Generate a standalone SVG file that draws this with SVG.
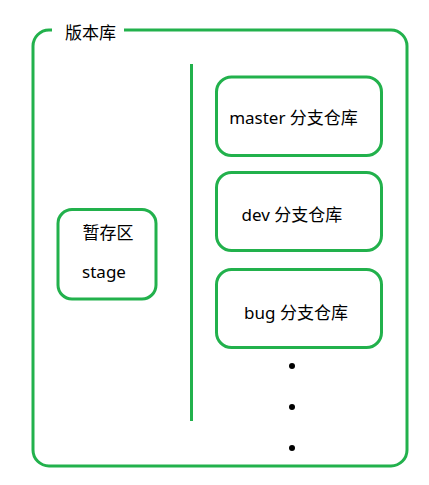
<svg xmlns="http://www.w3.org/2000/svg" width="429" height="485" viewBox="0 0 429 485">
<style>
.box{fill:none;stroke:#22B14C;stroke-width:3}
.ln{stroke:#22B14C;stroke-width:3;fill:none}
text{font-family:"Noto Sans","Noto Sans CJK SC",sans-serif;font-size:17px;fill:#000;text-anchor:middle;dominant-baseline:central}
.dot{fill:#000}
</style>
<rect width="429" height="485" fill="#fff"/>
<g id="repo">
<path class="box" d="M52,30 H49 A16,16 0 0 0 33,46 V450 A16,16 0 0 0 49,466 H391 A16,16 0 0 0 407,450 V46 A16,16 0 0 0 391,30 H124"/>
<text x="90.5" y="32">版本库</text>
</g>
<g id="connectors">
<line class="ln" x1="191.5" y1="64" x2="191.5" y2="421"/>
</g>
<g id="stage">
<rect class="box" x="58" y="209.5" width="98" height="89.5" rx="14"/>
<text x="108" y="232">暂存区</text>
<text x="104" y="271">stage</text>
</g>
<g id="master">
<rect class="box" x="216.5" y="77" width="165" height="78.5" rx="15"/>
<text x="293.5" y="117">master 分支仓库</text>
</g>
<g id="dev">
<rect class="box" x="216.5" y="172.5" width="165" height="78" rx="15"/>
<text x="292" y="214">dev 分支仓库</text>
</g>
<g id="bug">
<rect class="box" x="216.5" y="269.5" width="165" height="78" rx="15"/>
<text x="296" y="312">bug 分支仓库</text>
</g>
<g id="dots">
<circle class="dot" cx="292" cy="366" r="3"/>
<circle class="dot" cx="292" cy="407" r="3"/>
<circle class="dot" cx="292" cy="448" r="3"/>
</g>
</svg>
